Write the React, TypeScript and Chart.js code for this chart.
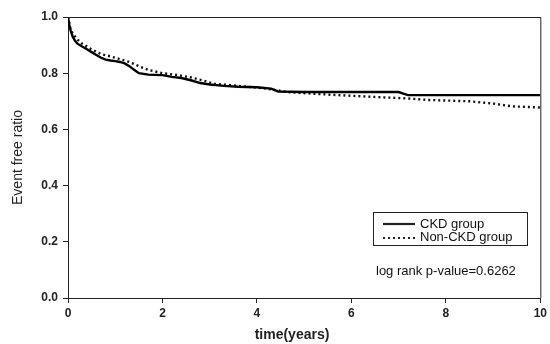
import React, { useEffect, useRef } from "react";
import { Chart, registerables } from "chart.js";

Chart.register(...registerables);

const ckdTimes = [0, 0.03, 0.06, 0.1, 0.15, 0.2, 0.3, 0.4, 0.5, 0.6, 0.7, 0.8, 0.9, 1.0, 1.1, 1.2, 1.3, 1.4, 1.5, 1.7, 2.0, 2.2, 2.4, 2.6, 2.8, 3.0, 3.3, 3.6, 4.0, 4.3, 4.45, 5.0, 7.0, 7.1, 7.2, 10];
const ckdValues = [1.0, 0.97, 0.95, 0.93, 0.915, 0.905, 0.895, 0.885, 0.875, 0.865, 0.855, 0.848, 0.845, 0.843, 0.84, 0.835, 0.825, 0.812, 0.8, 0.795, 0.793, 0.787, 0.783, 0.775, 0.765, 0.76, 0.755, 0.752, 0.75, 0.745, 0.735, 0.733, 0.733, 0.727, 0.722, 0.722];

const nonCkdTimes = [0, 0.05, 0.1, 0.2, 0.3, 0.5, 0.7, 0.9, 1.1, 1.3, 1.5, 1.7, 2.0, 2.3, 2.6, 2.9, 3.1, 3.4, 3.8, 4.2, 4.7, 5.5, 6.3, 7.2, 7.6, 8.5, 9.0, 9.4, 10];
const nonCkdValues = [1.0, 0.96, 0.94, 0.92, 0.905, 0.885, 0.868, 0.86, 0.85, 0.84, 0.825, 0.812, 0.8, 0.794, 0.785, 0.772, 0.762, 0.758, 0.752, 0.745, 0.732, 0.724, 0.717, 0.71, 0.705, 0.7, 0.692, 0.682, 0.678];

const xTicks = [0, 2, 4, 6, 8, 10];
const yTicks = [0, 0.2, 0.4, 0.6, 0.8, 1.0];
const seriesLabels = ["CKD group", "Non-CKD group"];
const pValueText = "log rank p-value=0.6262";
const xTitle = "time(years)";
const yTitle = "Event free ratio";

const FONT = "'Liberation Sans', Arial, sans-serif";

const overlayPlugin = {
  id: "overlay",
  afterDraw(chart: any) {
    const ctx = chart.ctx;
    const a = chart.chartArea;
    ctx.save();
    ctx.strokeStyle = "#222";
    ctx.lineWidth = 1;
    ctx.beginPath();
    ctx.moveTo(a.left, a.top + 0.5);
    ctx.lineTo(a.right + 0.5, a.top + 0.5);
    ctx.lineTo(a.right + 0.5, a.bottom);
    ctx.stroke();
    // legend box
    const bx = 373, by = 212, bw = 154, bh = 33;
    ctx.strokeRect(bx + 0.5, by + 0.5, bw, bh);
    ctx.font = `13px ${FONT}`;
    ctx.fillStyle = "#111";
    ctx.textBaseline = "middle";
    ctx.textAlign = "left";
    ctx.lineWidth = 2.2;
    ctx.setLineDash([]);
    ctx.beginPath();
    ctx.moveTo(383, 224);
    ctx.lineTo(415, 224);
    ctx.stroke();
    ctx.fillText(seriesLabels[0], 420, 224);
    ctx.setLineDash([2, 3]);
    ctx.beginPath();
    ctx.moveTo(383, 238);
    ctx.lineTo(415, 238);
    ctx.stroke();
    ctx.setLineDash([]);
    ctx.fillText(seriesLabels[1], 420, 237);
    ctx.fillText(pValueText, 376, 271);
    // x title
    ctx.font = `bold 14px ${FONT}`;
    ctx.fillStyle = "#222";
    ctx.textAlign = "center";
    ctx.fillText(xTitle, 292, 335);
    ctx.restore();
  },
};

export default function App() {
  const ref = useRef<HTMLCanvasElement | null>(null);
  useEffect(() => {
    if (!ref.current) return;
    const chart = new Chart(ref.current, {
      type: "line",
      data: {
        datasets: [
          {
            label: seriesLabels[0],
            data: ckdTimes.map((t, i) => ({ x: t, y: ckdValues[i] })),
            borderColor: "#000",
            borderWidth: 2.4,
            pointRadius: 0,
            fill: false,
          },
          {
            label: seriesLabels[1],
            data: nonCkdTimes.map((t, i) => ({ x: t, y: nonCkdValues[i] })),
            borderColor: "#111",
            borderWidth: 2.4,
            borderDash: [2, 3],
            pointRadius: 0,
            fill: false,
          },
        ],
      },
      options: {
        animation: false,
        responsive: false,
        maintainAspectRatio: false,
        layout: { padding: { left: 0, right: 8, top: 17, bottom: 0 } },
        plugins: { legend: { display: false }, tooltip: { enabled: false } },
        scales: {
          x: {
            type: "linear",
            min: 0,
            max: 10,
            afterBuildTicks: (s: any) => {
              s.ticks = xTicks.map((v) => ({ value: v }));
            },
            afterFit: (s: any) => {
              s.height = 46;
            },
            grid: { display: true, drawOnChartArea: false, tickLength: 5, color: "#222" },
            border: { display: true, color: "#222", width: 1 },
            ticks: {
              color: "#222",
              padding: 3,
              maxRotation: 0,
              font: { family: FONT, size: 12, weight: "bold" },
              callback: (v: any) => String(v),
            },
          },
          y: {
            min: 0,
            max: 1,
            afterBuildTicks: (s: any) => {
              s.ticks = yTicks.map((v) => ({ value: v }));
            },
            afterFit: (s: any) => {
              s.width = 68;
            },
            grid: { display: true, drawOnChartArea: false, tickLength: 5, color: "#222" },
            border: { display: true, color: "#222", width: 1 },
            ticks: {
              color: "#222",
              padding: 5,
              font: { family: FONT, size: 12, weight: "bold" },
              callback: (v: any) => Number(v).toFixed(1),
            },
            title: {
              display: true,
              text: yTitle,
              color: "#222",
              font: { family: FONT, size: 14 },
              padding: { top: 10, bottom: 0 },
            },
          },
        },
      },
      plugins: [overlayPlugin],
    });
    return () => chart.destroy();
  }, []);
  return (
    <div style={{ position: "fixed", left: 0, top: 0, width: 550, height: 344, background: "#fff" }}>
      <canvas ref={ref} width={550} height={344} style={{ display: "block" }} />
    </div>
  );
}
